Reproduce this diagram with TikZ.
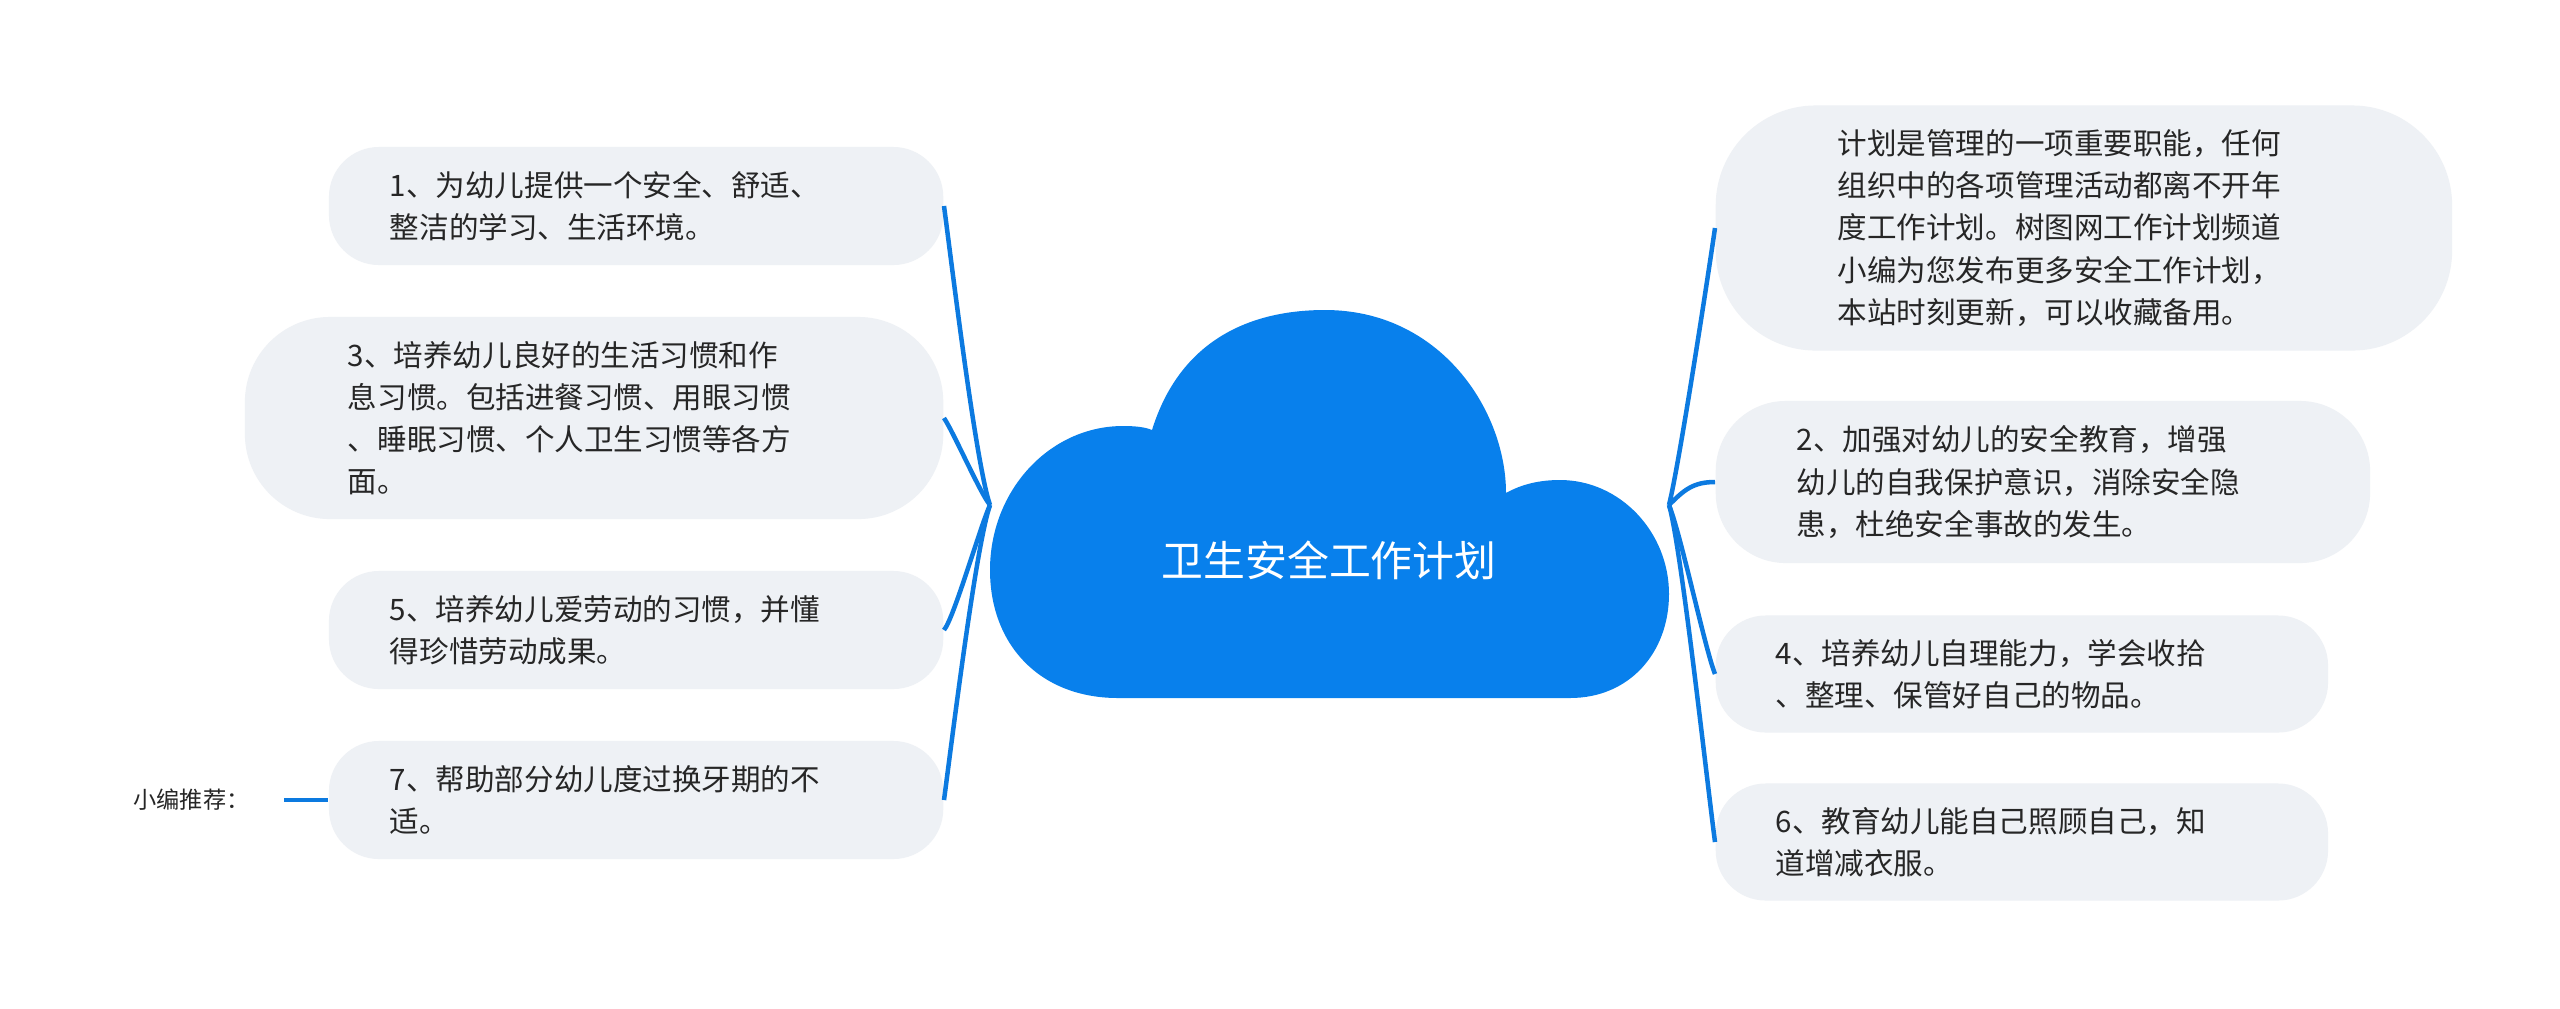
\documentclass[tikz,border=0pt]{standalone}
\usepackage{fontspec}
\newfontfamily\cjk{Noto Sans CJK SC}
\usepackage{tikz}
\usetikzlibrary{positioning}
\definecolor{cloudblue}{RGB}{8,128,236}
\definecolor{linkblue}{RGB}{12,122,224}
\definecolor{leafgray}{RGB}{238,241,245}
\tikzset{leaf/.style={fill=leafgray, text=black!85, font=\cjk\fontsize{8.4}{12}\selectfont,
		align=left, text width=4.92cm, anchor=#1}}
\tikzset{link/.style={linkblue, line width=0.045cm}}

\begin{document}
\begin{tikzpicture}[x=0.01cm, y=-0.01cm]
			\useasboundingbox (0,0) rectangle (2560,1008);
			\fill[white] (0,0) rectangle (2560,1008);
			% cloud
			\fill[cloudblue] (1118,698) .. controls (1040,698) and (990,645) .. (990,570)
				.. controls (990,490) and (1050,426) .. (1123,426)
				.. controls (1135,426) and (1145,427) .. (1152,430)
				.. controls (1180,340) and (1250,310) .. (1325,310)
				.. controls (1440,310) and (1506,410) .. (1506,493)
				.. controls (1522,484) and (1540,480) .. (1560,480)
				.. controls (1620,480) and (1669,532) .. (1669,594)
				.. controls (1669,652) and (1630,698) .. (1570,698) -- cycle;
			\node[font=\cjk\fontsize{11.9}{14}\selectfont, text=white] (root) at (1329,560) {卫生安全工作计划};
			\coordinate (rootL) at (990,505);
			\coordinate (rootR) at (1669,505);
			% left side
			\node[leaf=east, inner xsep=0.61cm, minimum height=1.18cm, rounded corners=0.5cm] (n1) at (944,206)
				{1、为幼儿提供一个安全、舒适、\\整洁的学习、生活环境。};
			\node[leaf=east, inner xsep=1.03cm, minimum height=2.02cm, rounded corners=0.85cm] (n3) at (944,418)
				{3、培养幼儿良好的生活习惯和作\\息习惯。包括进餐习惯、用眼习惯\\、睡眠习惯、个人卫生习惯等各方\\面。};
			\node[leaf=east, inner xsep=0.61cm, minimum height=1.18cm, rounded corners=0.5cm] (n5) at (944,630)
				{5、培养幼儿爱劳动的习惯，并懂\\得珍惜劳动成果。};
			\node[leaf=east, inner xsep=0.61cm, minimum height=1.18cm, rounded corners=0.5cm] (n7) at (944,800)
				{7、帮助部分幼儿度过换牙期的不\\适。};
			\node[font=\cjk\fontsize{6.6}{8}\selectfont, text=black!85, inner sep=0pt, left=0.78cm of n7] (rec) {小编推荐：};
			% right side
			\node[leaf=west, inner xsep=1.22cm, minimum height=2.45cm, rounded corners=1cm] (a) at (1715,228)
				{计划是管理的一项重要职能，任何\\组织中的各项管理活动都离不开年\\度工作计划。树图网工作计划频道\\小编为您发布更多安全工作计划，\\本站时刻更新，可以收藏备用。};
			\node[leaf=west, inner xsep=0.81cm, minimum height=1.62cm, rounded corners=0.7cm] (b) at (1715,482)
				{2、加强对幼儿的安全教育，增强\\幼儿的自我保护意识，消除安全隐\\患，杜绝安全事故的发生。};
			\node[leaf=west, inner xsep=0.6cm, minimum height=1.17cm, rounded corners=0.5cm] (c) at (1715,674)
				{4、培养幼儿自理能力，学会收拾\\、整理、保管好自己的物品。};
			\node[leaf=west, inner xsep=0.6cm, minimum height=1.17cm, rounded corners=0.5cm] (d) at (1715,842)
				{6、教育幼儿能自己照顾自己，知\\道增减衣服。};
			% connectors
			\draw[link] (rootL) .. controls +(-14,-40) and +(8,60) .. (n1.east);
			\draw[link] (rootL) .. controls +(-10,-12) and +(10,15) .. (n3.east);
			\draw[link] (rootL) .. controls +(-10,22) and +(10,-12) .. (n5.east);
			\draw[link] (rootL) .. controls +(-14,40) and +(8,-60) .. (n7.east);
			\draw[link] (rootR) .. controls +(10,-40) and +(-8,55) .. (a.west);
			\draw[link] (rootR) .. controls +(15,-15) and +(-22,0) .. (b.west);
			\draw[link] (rootR) .. controls +(12,30) and +(-10,-25) .. (c.west);
			\draw[link] (rootR) .. controls +(12,40) and +(-8,-60) .. (d.west);
			\draw[link, shorten <=0.34cm] (rec.east) -- (n7.west);
		\end{tikzpicture}
\end{document}
